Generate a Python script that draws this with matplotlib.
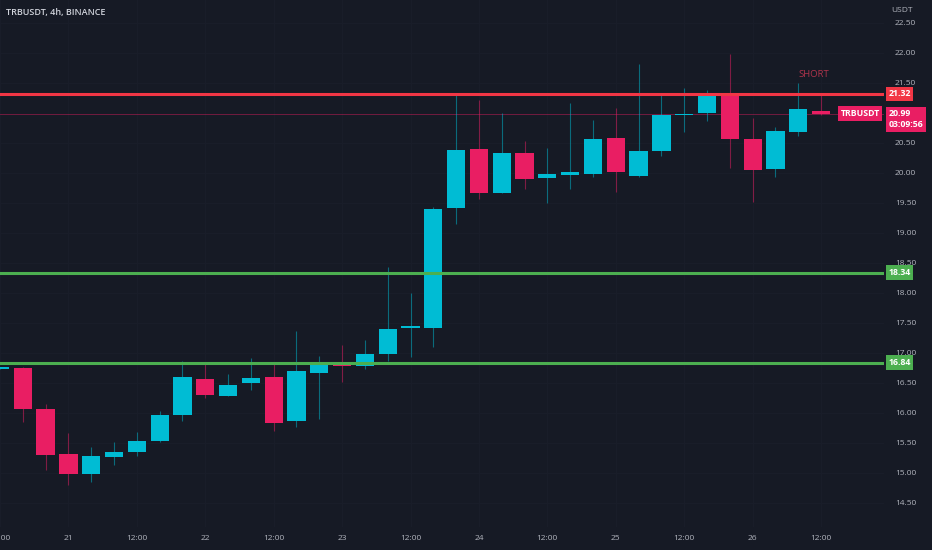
import numpy as np
import pandas as pd
import matplotlib
matplotlib.use('Agg')
import matplotlib.pyplot as plt
from matplotlib.transforms import blended_transform_factory

plt.rcParams['font.family'] = ['Open Sans', 'DejaVu Sans']

# Velas de 4h, TRBUSDT
datas = pd.date_range('2023-01-20 12:00', periods=37, freq='4h')
aberturas = [16.74, 16.75, 16.07, 15.32, 14.98, 15.27, 15.35, 15.53, 15.96, 16.56,
             16.29, 16.50, 16.60, 15.86, 16.66, 16.81, 16.78, 16.99, 17.42, 17.41,
             19.41, 20.40, 19.67, 20.33, 19.92, 19.97, 19.98, 20.59, 19.95, 20.36,
             20.96, 21.00, 21.34, 20.57, 20.07, 20.68, 21.03]
maximas = [16.77, 16.77, 16.15, 15.67, 15.43, 15.52, 15.68, 16.03, 16.86, 16.83,
           16.65, 16.92, 16.83, 17.36, 16.95, 17.13, 17.22, 18.44, 18.00, 19.44,
           21.30, 21.22, 21.00, 20.54, 20.41, 21.16, 20.88, 21.08, 21.82, 21.30,
           21.41, 21.38, 21.99, 20.92, 20.76, 21.50, 21.30]
minimas = [16.73, 15.85, 15.05, 14.80, 14.85, 15.13, 15.28, 15.52, 15.87, 16.25,
           16.29, 16.38, 15.70, 15.77, 15.90, 16.52, 16.74, 16.86, 16.94, 17.10,
           19.15, 19.56, 19.66, 19.74, 19.50, 19.74, 19.93, 19.69, 19.94, 20.28,
           20.69, 20.86, 20.09, 19.51, 19.93, 20.62, 20.97]
fechamentos = [16.76, 16.07, 15.30, 14.98, 15.28, 15.35, 15.53, 15.96, 16.60, 16.30,
               16.47, 16.58, 15.84, 16.70, 16.81, 16.78, 16.99, 17.40, 17.45, 19.40,
               20.39, 19.67, 20.33, 19.90, 19.98, 20.01, 20.57, 20.01, 20.36, 20.96,
               20.98, 21.33, 20.57, 20.05, 20.70, 21.07, 20.99]

# Linhas horizontais
resistencia = 21.32
suportes = [18.34, 16.84]
preco_atual = 20.99
contador = '03:09:56'

# Cores
fundo = '#161a25'
cor_alta = '#00bcd4'
cor_baixa = '#e91e63'
cor_texto = '#b2b5be'
cor_vermelha = '#f23645'
cor_verde = '#4caf50'

abre = np.array(aberturas)
fecha = np.array(fechamentos)
alta = np.array(maximas)
baixa = np.array(minimas)
x = np.arange(len(datas)) - 1  # primeira vela fica cortada na borda

fig = plt.figure(figsize=(9.32, 5.5), dpi=100)
fig.patch.set_facecolor(fundo)
ax = fig.add_axes([0, 23 / 550, 884 / 932, 527 / 550])
ax.set_facecolor(fundo)

cores = np.where(fecha >= abre, cor_alta, cor_baixa)

# pavios
ax.vlines(x, baixa, alta, colors=cores, linewidth=0.8, alpha=0.5, zorder=2)
# corpos
corpo = np.maximum(np.abs(fecha - abre), 0.03)
base = np.minimum(abre, fecha)
ax.bar(x, corpo, bottom=base, width=0.8, color=cores, zorder=3)

# linhas de suporte / resistencia
ax.axhline(resistencia, color=cor_vermelha, linewidth=2.2, zorder=4)
for s in suportes:
    ax.axhline(s, color=cor_verde, linewidth=2.2, zorder=4)
ax.axhline(preco_atual, color=cor_baixa, linewidth=0.6, alpha=0.5, zorder=1)

ax.set_xlim(-0.856, 37.76)
ax.set_ylim(14.10, 22.883)

# grade quase invisivel
ax.grid(True, color='#1a1e2a', linewidth=0.7, zorder=0)
ax.set_axisbelow(True)
for sp in ax.spines.values():
    sp.set_visible(False)

# eixo de precos (21.00 fica escondido pela etiqueta do preco atual)
niveis = [v for v in np.arange(14.5, 22.51, 0.5) if abs(v - 21.0) > 0.01]
ax.yaxis.tick_right()
ax.set_yticks(niveis)
ax.set_yticklabels([f'{v:.2f}' for v in niveis])
ax.tick_params(axis='y', length=0, pad=8, labelcolor=cor_texto, labelsize=6)

# eixo de tempo
pos_ticks = []
rot_ticks = []
for i, d in enumerate(datas):
    if d.hour == 0:
        pos_ticks.append(x[i]); rot_ticks.append(str(d.day))
    elif d.hour == 12:
        pos_ticks.append(x[i]); rot_ticks.append('12:00')
ax.set_xticks(pos_ticks)
ax.set_xticklabels(rot_ticks)
ax.tick_params(axis='x', length=0, pad=6, labelcolor=cor_texto, labelsize=6)

misto = blended_transform_factory(ax.transAxes, ax.transData)

# etiquetas de preco
def etiqueta(y, texto, cor, dx=3, ha='left'):
    ax.annotate(texto, xy=(1, y), xycoords=misto, xytext=(dx, 0), textcoords='offset points',
                ha=ha, va='center', fontsize=6.3, fontweight='bold', color='white',
                annotation_clip=False, zorder=10,
                bbox=dict(boxstyle='square,pad=0.3', fc=cor, ec='none'))

etiqueta(resistencia, f'{resistencia:.2f}', cor_vermelha)
for s in suportes:
    etiqueta(s, f'{s:.2f}', cor_verde)
ax.annotate(f'{preco_atual:.2f}\n{contador}', xy=(1, preco_atual), xycoords=misto,
            xytext=(3, 3.2), textcoords='offset points', ha='left', va='top',
            fontsize=6.3, fontweight='bold', color='white', linespacing=1.3,
            annotation_clip=False, zorder=10,
            bbox=dict(boxstyle='square,pad=0.3', fc=cor_baixa, ec='none'))
etiqueta(preco_atual, 'TRBUSDT', cor_baixa, dx=-3, ha='right')

# textos
ax.text(34.7, 21.64, 'SHORT', color='#b0344c', fontsize=6.8, ha='center', va='center', zorder=5)
fig.text(6 / 932, 1 - 12 / 550, 'TRBUSDT, 4h, BINANCE', color='#d1d4dc', fontsize=6.5,
         fontweight='semibold', ha='left', va='center')
fig.text(891 / 932, 1 - 10 / 550, 'USDT', color=cor_texto, fontsize=6, ha='left', va='center')

plt.savefig('out.png', dpi=100, facecolor=fundo)
